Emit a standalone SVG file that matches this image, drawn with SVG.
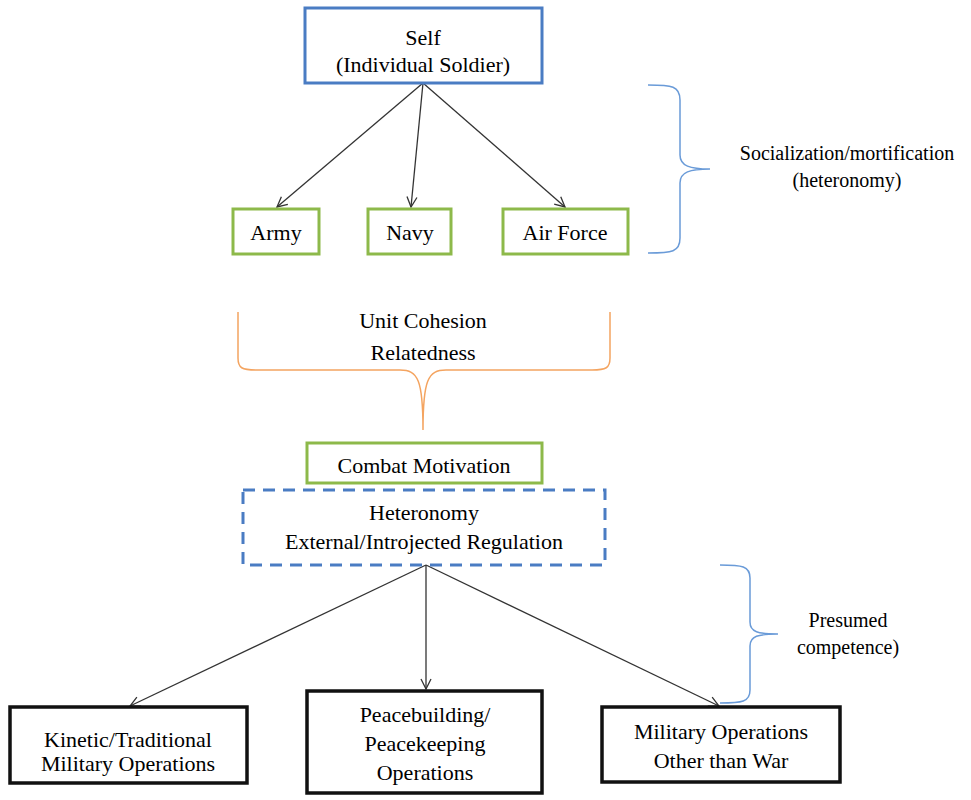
<svg xmlns="http://www.w3.org/2000/svg" width="971" height="800" viewBox="0 0 971 800">
<defs>
<marker id="arr" viewBox="0 0 12 12" refX="11" refY="6" markerWidth="12" markerHeight="12" markerUnits="userSpaceOnUse" orient="auto">
<path d="M1,1 L11,6 L1,11" fill="none" stroke="#333" stroke-width="1.3"/>
</marker>
</defs>
<style>
.blue{fill:#fff;stroke:#4a7cc3;stroke-width:3}
.green{fill:#fff;stroke:#8db94a;stroke-width:3}
.black{fill:#fff;stroke:#111;stroke-width:3.5}
.dash{fill:none;stroke:#4a7cc3;stroke-width:3;stroke-dasharray:12 8}
.con{stroke:#333;stroke-width:1.3;fill:none;marker-end:url(#arr)}
.brace{fill:none;stroke-width:1.5}
</style>
<rect width="971" height="800" fill="#fff"/>
<g id="connectors">
<line class="con" x1="423" y1="83" x2="277" y2="207"/>
<line class="con" x1="423" y1="83" x2="411" y2="207"/>
<line class="con" x1="423" y1="83" x2="565" y2="207"/>
<line class="con" x1="426" y1="565" x2="130" y2="706"/>
<line class="con" x1="426" y1="565" x2="426" y2="689"/>
<line class="con" x1="426" y1="565" x2="719" y2="706"/>
</g>
<g id="self">
<rect class="blue" x="305" y="8" width="237" height="75"/>
<text font-family="Liberation Serif" font-size="22" text-anchor="middle" x="423" y="45">Self</text>
<text font-family="Liberation Serif" font-size="22" text-anchor="middle" x="423" y="72">(Individual  Soldier)</text>
</g>
<g id="army">
<rect class="green" x="233" y="209" width="86" height="45"/>
<text font-family="Liberation Serif" font-size="22" text-anchor="middle" x="276" y="240">Army</text>
</g>
<g id="navy">
<rect class="green" x="368" y="209" width="83" height="45"/>
<text font-family="Liberation Serif" font-size="22" text-anchor="middle" x="410" y="240">Navy</text>
</g>
<g id="airforce">
<rect class="green" x="503" y="209" width="125" height="45"/>
<text font-family="Liberation Serif" font-size="22" text-anchor="middle" x="565" y="240">Air Force</text>
</g>
<g id="brace-socialization">
<path class="brace" stroke="#6a9bd8" d="M648,85 C672,85 680,86 680,100 L680,155 C680,166 690,169 710,169 C690,169 680,172 680,183 L680,238 C680,252 672,253 648,253"/>
<text font-family="Liberation Serif" font-size="20" text-anchor="middle" x="847" y="160">Socialization/mortification</text>
<text font-family="Liberation Serif" font-size="20" text-anchor="middle" x="847" y="187">(heteronomy)</text>
</g>
<g id="brace-cohesion">
<path class="brace" stroke="#f4a460" d="M238,312 L238,358 C238,368 242,370 256,370 L400,370 C418,370 423,380 423,430 C423,380 428,370 446,370 L592,370 C606,370 610,368 610,358 L610,312"/>
<text font-family="Liberation Serif" font-size="22" text-anchor="middle" x="423" y="328">Unit Cohesion</text>
<text font-family="Liberation Serif" font-size="22" text-anchor="middle" x="423" y="360">Relatedness</text>
</g>
<g id="combat">
<rect class="green" x="307" y="443" width="235" height="40"/>
<text font-family="Liberation Serif" font-size="22" text-anchor="middle" x="424" y="473">Combat Motivation</text>
</g>
<g id="heteronomy">
<rect class="dash" x="243" y="490" width="362" height="75"/>
<text font-family="Liberation Serif" font-size="22" text-anchor="middle" x="424" y="520">Heteronomy</text>
<text font-family="Liberation Serif" font-size="22" text-anchor="middle" x="424" y="549">External/Introjected  Regulation</text>
</g>
<g id="brace-competence">
<path class="brace" stroke="#6a9bd8" d="M720,565 C742,565 750,566 750,578 L750,622 C750,632 758,634 778,634 C758,634 750,636 750,646 L750,690 C750,702 742,703 720,703"/>
<text font-family="Liberation Serif" font-size="20" text-anchor="middle" x="848" y="627">Presumed</text>
<text font-family="Liberation Serif" font-size="20" text-anchor="middle" x="848" y="654">competence)</text>
</g>
<g id="kinetic">
<rect class="black" x="10" y="707" width="237" height="76"/>
<text font-family="Liberation Serif" font-size="22" text-anchor="middle" x="128" y="747">Kinetic/Traditional</text>
<text font-family="Liberation Serif" font-size="22" text-anchor="middle" x="128" y="771">Military  Operations</text>
</g>
<g id="peace">
<rect class="black" x="307" y="691" width="235" height="102"/>
<text font-family="Liberation Serif" font-size="22" text-anchor="middle" x="425" y="722">Peacebuilding/</text>
<text font-family="Liberation Serif" font-size="22" text-anchor="middle" x="425" y="751">Peacekeeping</text>
<text font-family="Liberation Serif" font-size="22" text-anchor="middle" x="425" y="780">Operations</text>
</g>
<g id="mootw">
<rect class="black" x="602" y="707" width="238" height="75"/>
<text font-family="Liberation Serif" font-size="22" text-anchor="middle" x="721" y="739">Military  Operations</text>
<text font-family="Liberation Serif" font-size="22" text-anchor="middle" x="721" y="768">Other than War</text>
</g>
</svg>
